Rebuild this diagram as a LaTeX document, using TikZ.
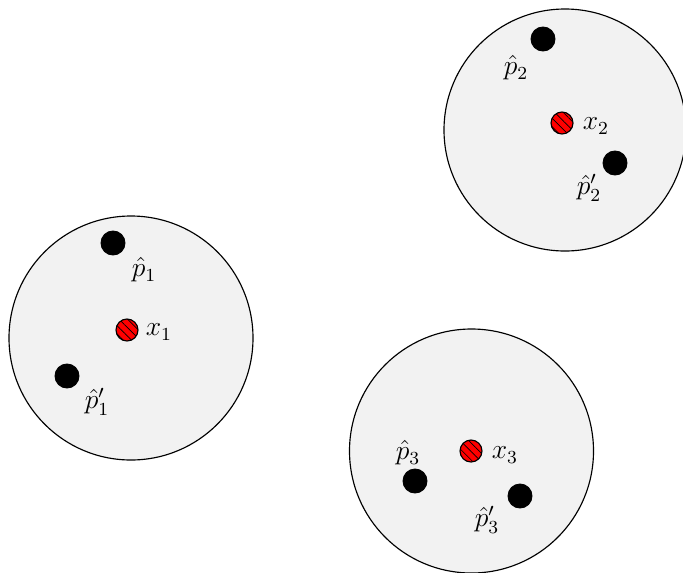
\documentclass[tikz,border=0pt]{standalone}
\usetikzlibrary{patterns.meta}
\definecolor{discfill}{RGB}{242,242,242}
\begin{document}
\begin{tikzpicture}[x=0.435pt,y=0.435pt,
  disc/.style={draw=black,fill=discfill,line width=0.5pt},
  blackdot/.style={circle,fill=black,draw=black,inner sep=0pt,minimum size=24*0.435pt},
  reddot/.style={circle,fill=red,draw=black,line width=0.5pt,inner sep=0pt,minimum size=22*0.435pt,
    postaction={pattern={Lines[angle=-45,distance=2.6pt,line width=0.3pt]}}},
  lab/.style={inner sep=0pt,font=\large}]
\useasboundingbox (0,0) rectangle (683,-572);
% discs
\draw[disc] (131,-338) circle[radius=122];
\draw[disc] (565,-130) circle[radius=121];
\draw[disc] (471.5,-451) circle[radius=122];
% disc 1
\node[blackdot] (p1) at (113,-243) {};
\node[blackdot] (p1b) at (67,-376) {};
\node[reddot] (x1) at (127,-330) {};
\node[lab] (lp1) at (144,-270) {$\hat{p}_1$};
\node[lab] (lx1) at (159,-332) {$x_1$};
\node[lab] (lp1b) at (97,-402) {$\hat{p}'_1$};
% disc 2
\node[blackdot] (p2) at (543,-39) {};
\node[blackdot] (p2b) at (615,-163) {};
\node[reddot] (x2) at (562,-123) {};
\node[lab] (lp2) at (516,-68) {$\hat{p}_2$};
\node[lab] (lx2) at (596,-126) {$x_2$};
\node[lab] (lp2b) at (589,-188) {$\hat{p}'_2$};
% disc 3
\node[blackdot] (p3) at (415,-481) {};
\node[blackdot] (p3b) at (520,-496) {};
\node[reddot] (x3) at (471,-451) {};
\node[lab] (lp3) at (408,-453) {$\hat{p}_3$};
\node[lab] (lx3) at (505,-455) {$x_3$};
\node[lab] (lp3b) at (487,-520) {$\hat{p}'_3$};
\end{tikzpicture}
\end{document}
